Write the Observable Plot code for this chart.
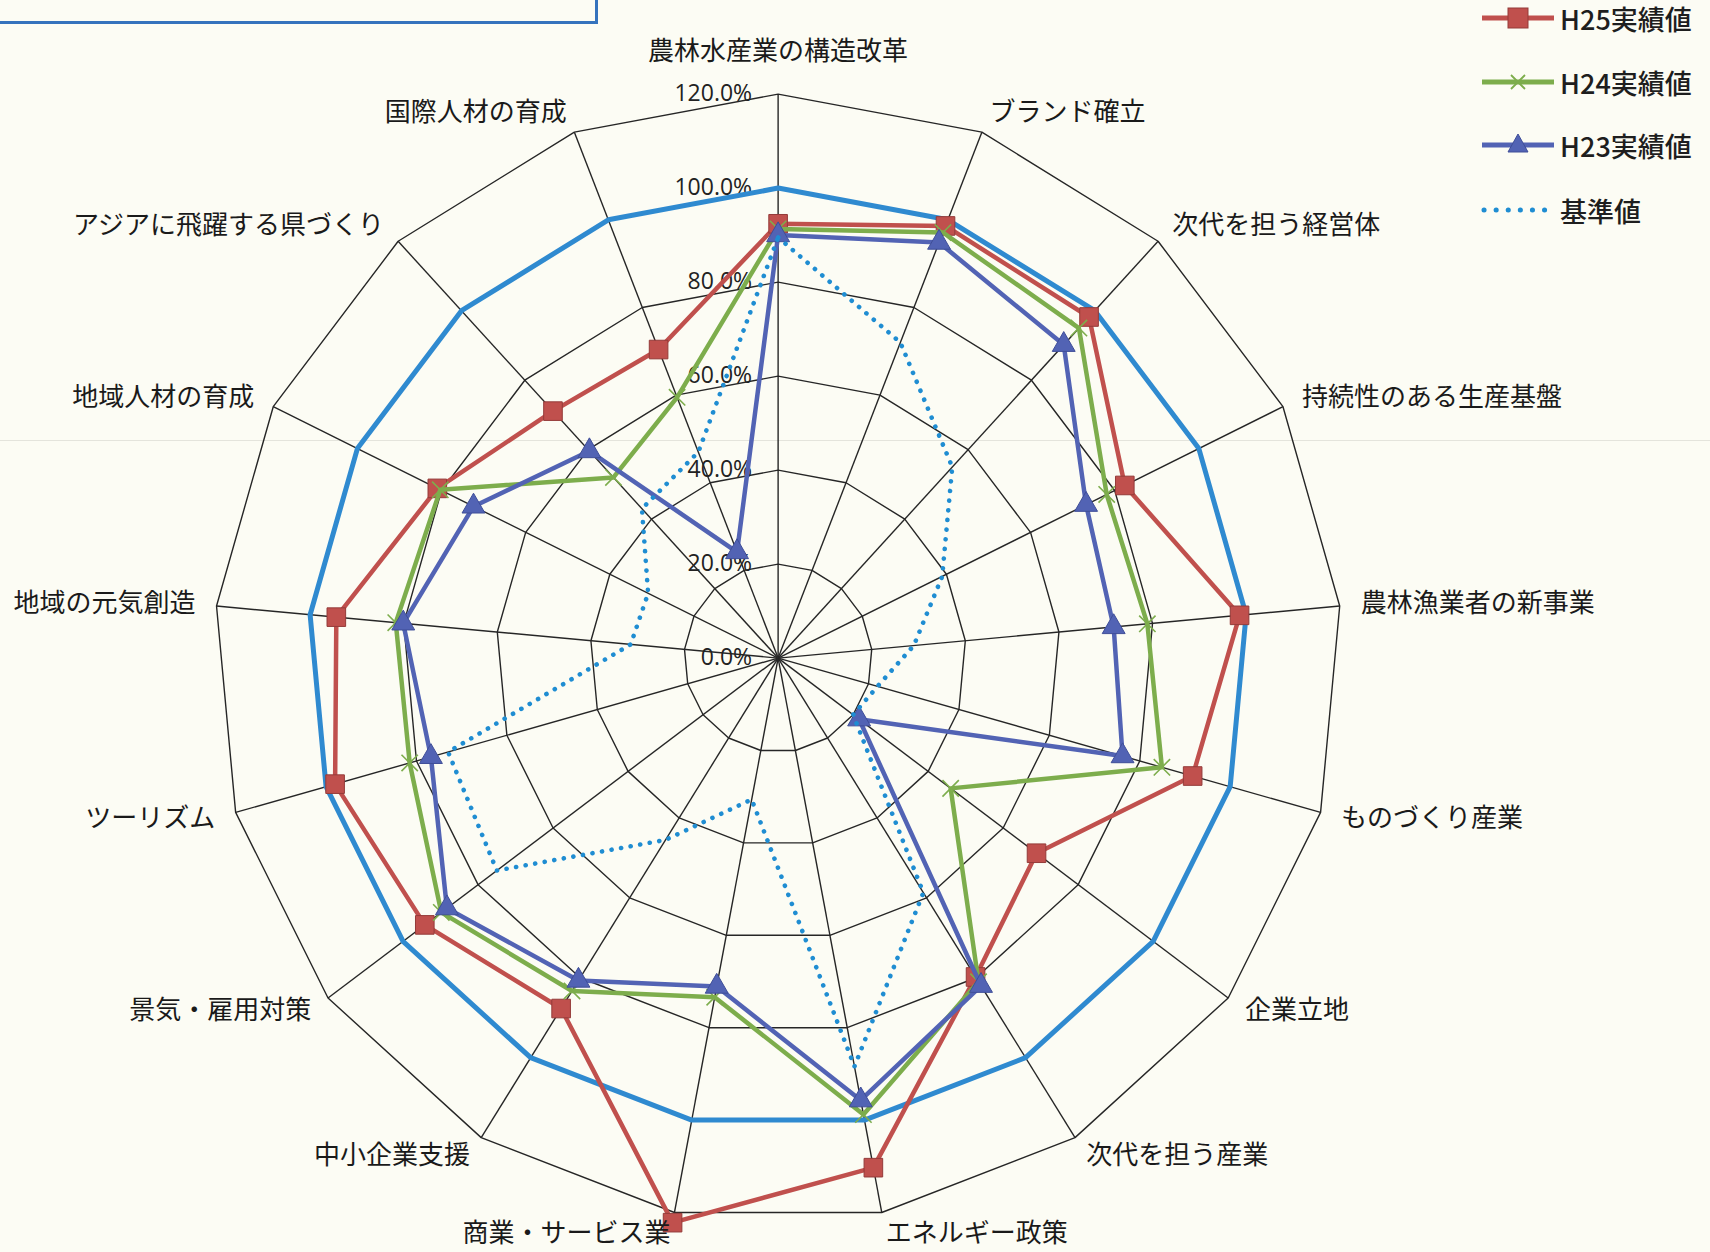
<!DOCTYPE html>
<html lang="ja">
<head>
<meta charset="utf-8">
<script src="https://cdn.jsdelivr.net/npm/d3@7"></script>
<script src="https://cdn.jsdelivr.net/npm/@observablehq/plot@0.6"></script>
<style>
  html, body { margin: 0; padding: 0; background: #fcfcf4; }
  #wrap { position: relative; width: 1710px; height: 1252px; overflow: hidden; background: #fcfcf4; }
  #chart { position: absolute; left: 0; top: 0; }
  #box { position: absolute; left: 0; top: 0; width: 595px; height: 21px;
         border-right: 3px solid #3573bd; border-bottom: 3px solid #3573bd; }
  #scanline { position: absolute; left: 0; top: 440px; width: 1710px; height: 1px; background: #e4e4dc; }
  #legend { position: absolute; left: 1480px; top: 0; font-family: "Noto Sans CJK JP", sans-serif;
            font-size: 27px; font-weight: 500; color: #1e1e1e; }
  .row { position: absolute; left: 0; height: 30px; display: flex; align-items: center; white-space: nowrap; }
  .row span { line-height: 1; display: inline-block; }
  .row svg { width: 76px; height: 30px; margin-right: 4px; flex: none; }
</style>
</head>
<body>
<div id="wrap">
  <div id="scanline"></div>
  <div id="chart"></div>
  <div id="box"></div>
  <div id="legend"></div>
</div>
<script>
// ---- data ----
const categories = ["農林水産業の構造改革","ブランド確立","次代を担う経営体","持続性のある生産基盤","農林漁業者の新事業","ものづくり産業","企業立地","次代を担う産業","エネルギー政策","商業・サービス業","中小企業支援","景気・雇用対策","ツーリズム","地域の元気創造","地域人材の育成","アジアに飛躍する県づくり","国際人材の育成"];
const h25 = [92.4, 98.6, 98.2, 82.4, 98.6, 91.7, 68.9, 79.8, 110.3, 122.2, 87.7, 94.2, 98.0, 94.4, 81.0, 71.1, 70.4];
const h24 = [91.3, 97.1, 95.0, 78.1, 78.9, 84.9, 46.0, 81.0, 98.8, 73.4, 83.3, 89.8, 81.5, 81.7, 80.3, 52.0, 59.5];
const h23 = [90.0, 94.8, 90.2, 73.2, 71.7, 76.2, 21.6, 82.0, 95.7, 71.1, 80.7, 88.3, 76.8, 80.1, 72.4, 59.6, 24.2];
const kijun = [89.5, 72.0, 55.0, 39.0, 29.0, 22.0, 20.0, 58.7, 88.4, 30.6, 45.5, 75.0, 73.0, 31.5, 30.9, 43.0, 47.0];
const target = [100, 100, 100, 100, 100, 100, 100, 100, 100, 100, 100, 100, 100, 100, 100, 100, 100];
const ringTicks = [0, 20, 40, 60, 80, 100, 120];
const tickLabels = ["0.0%", "20.0%", "40.0%", "60.0%", "80.0%", "100.0%", "120.0%"];
const seriesNames = ["H25実績値", "H24実績値", "H23実績値", "基準値"];

// ---- geometry helpers (polar -> cartesian in value units) ----
const N = categories.length;
const ang = i => i * 2 * Math.PI / N;
const px = (i, v) => v * Math.sin(ang(i));
const py = (i, v) => v * Math.cos(ang(i));
const pts = vals => vals.map((v, i) => ({i, v, x: px(i, v), y: py(i, v)}));
const rMax = d3.max(ringTicks);

const rings = ringTicks.filter(t => t > 0).flatMap(t => categories.map((c, i) => ({t, x: px(i, t), y: py(i, t)})));
const spokes = categories.map((c, i) => ({x2: px(i, rMax), y2: py(i, rMax)}));
const labR = i => (i === 0 ? 129 : 124.5);
const labels = categories.map((c, i) => ({c, i, s: Math.sin(ang(i)), x: px(i, labR(i)), y: py(i, labR(i))}));
const tickData = ringTicks.map((t, k) => ({t, label: tickLabels[k]}));

const C = {h25: "#c0504d", h25s: "#943b39", h24: "#7dad4c", h23: "#5263b4", h23s: "#3f4e98", kijun: "#1f8dd2", target: "#2f8ad0"};
const jp = "'Noto Sans CJK JP', sans-serif";

const chart = Plot.plot({
  width: 1710, height: 1252, margin: 0,
  x: {domain: [-165.45, 198.38], axis: null},
  y: {domain: [-126.47, 139.91], axis: null},
  style: {background: "transparent", overflow: "visible"},
  marks: [
    Plot.line(rings, {x: "x", y: "y", z: "t", curve: "linear-closed", stroke: "#262626", strokeWidth: 1.4}),
    Plot.link(spokes, {x1: 0, y1: 0, x2: "x2", y2: "y2", stroke: "#262626", strokeWidth: 1.4}),
    Plot.text(tickData, {x: 0, y: "t", text: "label", textAnchor: "end", dx: -26, fontSize: 23, fill: "#222",
                         fontFamily: "'Open Sans', 'Liberation Sans', sans-serif"}),
    Plot.line(pts(target), {x: "x", y: "y", curve: "linear-closed", stroke: C.target, strokeWidth: 5}),
    Plot.line(pts(h25), {x: "x", y: "y", curve: "linear-closed", stroke: C.h25, strokeWidth: 4.5}),
    Plot.dot(pts(h25), {x: "x", y: "y", symbol: "square", r: 10.5, fill: C.h25, stroke: C.h25s, strokeWidth: 1}),
    Plot.line(pts(h24), {x: "x", y: "y", curve: "linear-closed", stroke: C.h24, strokeWidth: 4.5}),
    Plot.dot(pts(h24), {x: "x", y: "y", symbol: "times", r: 7.5, stroke: C.h24, strokeWidth: 1.6}),
    Plot.line(pts(h23), {x: "x", y: "y", curve: "linear-closed", stroke: C.h23, strokeWidth: 4.5}),
    Plot.dot(pts(h23), {x: "x", y: "y", symbol: "triangle", r: 8.5, fill: C.h23, stroke: C.h23s, strokeWidth: 1}),
    Plot.line(pts(kijun), {x: "x", y: "y", curve: "linear-closed", stroke: C.kijun, strokeWidth: 4.6,
                           strokeDasharray: "0.1 9.6", strokeLinecap: "round"}),
    Plot.text(labels.filter(d => Math.abs(d.s) < 0.01), {x: "x", y: "y", text: "c", textAnchor: "middle", fontSize: 26, fill: "#1a1a1a", fontFamily: jp}),
    Plot.text(labels.filter(d => d.s >= 0.01), {x: "x", y: "y", text: "c", textAnchor: "start", fontSize: 26, fill: "#1a1a1a", fontFamily: jp}),
    Plot.text(labels.filter(d => d.s <= -0.01), {x: "x", y: "y", text: "c", textAnchor: "end", fontSize: 26, fill: "#1a1a1a", fontFamily: jp})
  ]
});
document.getElementById("chart").appendChild(chart);

// ---- legend (HTML overlay, top right) ----
const glyphs = [
  `<line x1="2" y1="15" x2="74" y2="15" stroke="${C.h25}" stroke-width="5"/><rect x="28" y="5" width="20" height="20" fill="${C.h25}" stroke="${C.h25s}"/>`,
  `<line x1="2" y1="15" x2="74" y2="15" stroke="${C.h24}" stroke-width="5"/><path d="M31 8 L45 22 M45 8 L31 22" stroke="${C.h24}" stroke-width="1.8"/>`,
  `<line x1="2" y1="15" x2="74" y2="15" stroke="${C.h23}" stroke-width="5"/><path d="M38 4 L48 22 L28 22 Z" fill="${C.h23}" stroke="${C.h23s}"/>`,
  `<line x1="4" y1="15" x2="66" y2="15" stroke="${C.kijun}" stroke-width="5" stroke-dasharray="0.1 12" stroke-linecap="round"/>`
];
const rowTops = [3, 67, 130, 195];
const legend = document.getElementById("legend");
seriesNames.forEach((name, k) => {
  const row = document.createElement("div");
  row.className = "row";
  row.style.top = rowTops[k] + "px";
  row.innerHTML = `<svg viewBox="0 0 76 30">${glyphs[k]}</svg><span>${name}</span>`;
  legend.appendChild(row);
});
</script>
</body>
</html>
